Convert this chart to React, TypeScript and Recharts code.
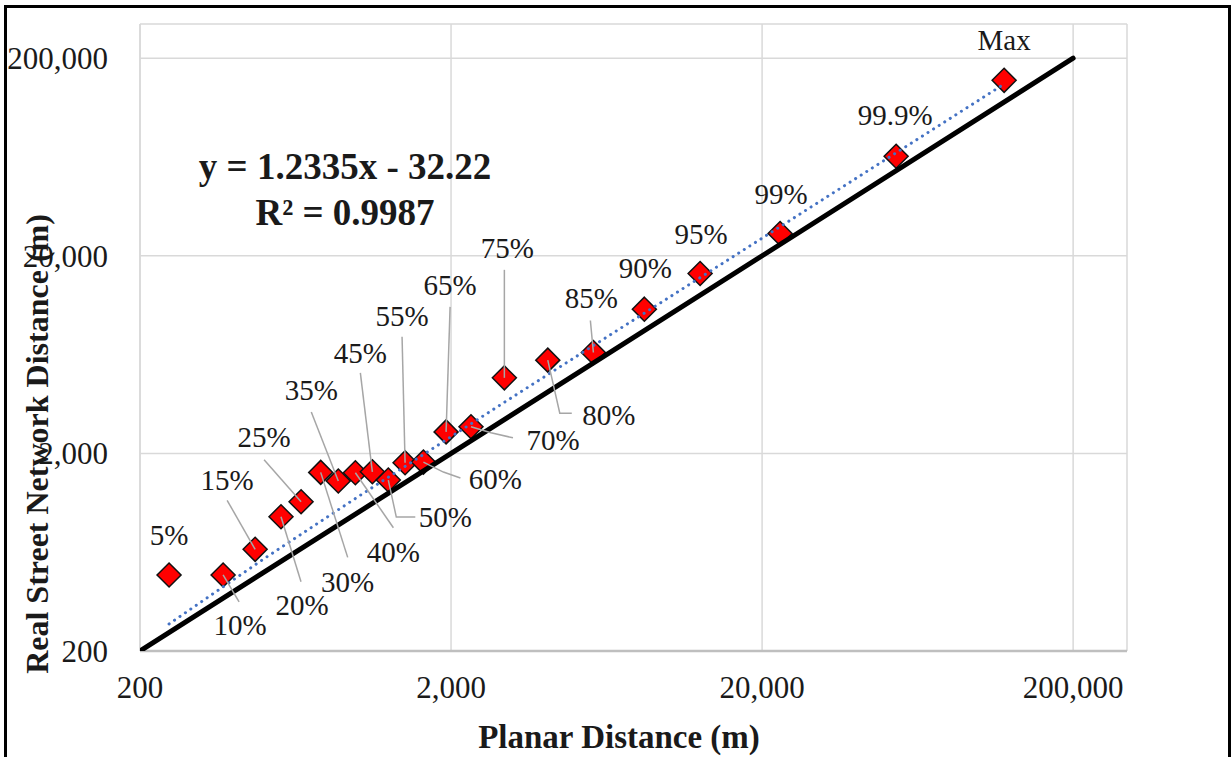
import React from "react";
import { ScatterChart, Scatter, XAxis, YAxis, CartesianGrid } from "recharts";

const pointLabels = [
  "5%", "10%", "15%", "20%", "25%", "30%", "35%", "40%", "45%", "50%", "55%",
  "60%", "65%", "70%", "75%", "80%", "85%", "90%", "95%", "99%", "99.9%", "Max",
];
const planarDistance = [
  248, 370, 469, 568, 659, 762, 868, 985, 1117, 1257, 1423,
  1630, 1928, 2318, 2968, 4093, 5736, 8366, 12640, 22850, 53950, 120000,
];
const networkDistance = [
  485, 485, 654, 956, 1138, 1603, 1449, 1597, 1614, 1466, 1793,
  1808, 2570, 2727, 4825, 5929, 6486, 10740, 16270, 25930, 63800, 154600,
];
const trendPlanar = [248, 500, 1000, 3000, 120000];
const trendNetwork = [274, 585, 1201, 3668, 148000];
const identityValues = [200, 200000];
const axisTicks = [200, 2000, 20000, 200000];

// where each percentile label sits relative to its marker, plus the leader line
const labelLayout: { dx: number; dy: number; leader?: number[][] }[] = [
  { dx: 0, dy: -40 },
  { dx: 17, dy: 50, leader: [[0, 0], [16, 27]] },
  { dx: -28, dy: -69, leader: [[0, 0], [-28, -49]] },
  { dx: 21, dy: 88, leader: [[0, 0], [20, 65]] },
  { dx: -37, dy: -65, leader: [[0, 0], [-37, -42]] },
  { dx: 27, dy: 110, leader: [[0, 0], [27, 85]] },
  { dx: -27, dy: -91, leader: [[0, 0], [-27, -69]] },
  { dx: 38, dy: 79, leader: [[0, 0], [38, 55]] },
  { dx: -12, dy: -119, leader: [[0, 0], [-12, -99]] },
  { dx: 57, dy: 37, leader: [[0, 0], [8, 37], [27, 37]] },
  { dx: -3, dy: -147, leader: [[0, 0], [-3, -126]] },
  { dx: 72, dy: 17, leader: [[0, 0], [20, 10], [37, 16]] },
  { dx: 4, dy: -147, leader: [[0, 0], [4, -125]] },
  { dx: 82, dy: 13, leader: [[0, 0], [20, 6], [42, 11]] },
  { dx: 3, dy: -130, leader: [[0, 0], [0, -108]] },
  { dx: 61, dy: 55, leader: [[0, 0], [12, 53], [24, 53]] },
  { dx: -2, dy: -54, leader: [[0, 0], [-3, -32]] },
  { dx: 1, dy: -41 },
  { dx: 1, dy: -40 },
  { dx: 1, dy: -40 },
  { dx: -1, dy: -41 },
  { dx: 0, dy: -40 },
];

const points = planarDistance.map((x, i) => ({ x, y: networkDistance[i], label: pointLabels[i], i }));
const trend = trendPlanar.map((x, i) => ({ x, y: trendNetwork[i] }));
const identity = identityValues.map((v) => ({ x: v, y: v }));

const SERIF = "'Liberation Serif', 'Times New Roman', serif";

const Diamond = (props: any) => {
  const { cx, cy } = props;
  const r = 12;
  return (
    <polygon
      points={`${cx},${cy - r} ${cx + r},${cy} ${cx},${cy + r} ${cx - r},${cy}`}
      fill="#ff0000"
      stroke="#111"
      strokeWidth={1.5}
    />
  );
};

const PointLabel = (props: any) => {
  const { cx, cy, payload } = props;
  const lay = labelLayout[payload.i];
  return (
    <g>
      {lay.leader && (
        <polyline
          points={lay.leader.map(([a, b]) => `${cx + a},${cy + b}`).join(" ")}
          fill="none"
          stroke="#a6a6a6"
          strokeWidth={1.5}
        />
      )}
      <text
        x={cx + lay.dx}
        y={cy + lay.dy}
        textAnchor="middle"
        dominantBaseline="central"
        fontSize={29}
        fontFamily={SERIF}
        fill="#1a1a1a"
      >
        {payload.label}
      </text>
    </g>
  );
};

const fmt = (v: number) => v.toLocaleString("en-US");

export default function App() {
  return (
    <div style={{ position: "fixed", left: 0, top: 0, width: 1231, height: 757, overflow: "hidden", background: "#fff" }}>
      <div
        style={{
          position: "absolute",
          left: 4,
          top: 5,
          width: 1227,
          height: 800,
          border: "3px solid #000",
          boxSizing: "border-box",
        }}
      />
      <ScatterChart width={1231} height={757} margin={{ top: 24, right: 104, left: 0, bottom: 0 }}>
        <CartesianGrid stroke="#d9d9d9" strokeWidth={1.5} />
        <XAxis
          type="number"
          dataKey="x"
          scale="log"
          domain={[200, 298000]}
          allowDataOverflow
          ticks={axisTicks}
          tickFormatter={fmt}
          height={106}
          tickLine={false}
          tickSize={0}
          tickMargin={25}
          axisLine={{ stroke: "#bfbfbf", strokeWidth: 2.5 }}
          tick={{ fontSize: 31, fontFamily: SERIF, fill: "#1a1a1a" }}
          label={{
            content: () => (
              <text x={619} y={737} textAnchor="middle" dominantBaseline="central" fontSize={33} fontWeight="bold" fontFamily={SERIF} fill="#1a1a1a">
                Planar Distance (m)
              </text>
            ),
          }}
        />
        <YAxis
          type="number"
          dataKey="y"
          scale="log"
          domain={[200, 298000]}
          allowDataOverflow
          ticks={axisTicks}
          tickFormatter={fmt}
          width={140}
          tickLine={false}
          tickSize={0}
          tickMargin={32}
          axisLine={{ stroke: "#d9d9d9", strokeWidth: 1.5 }}
          tick={{ fontSize: 31, fontFamily: SERIF, fill: "#1a1a1a" }}
          label={{
            content: () => (
              <text
                x={37}
                y={444}
                transform="rotate(-90 37 444)"
                textAnchor="middle"
                dominantBaseline="central"
                fontSize={32}
                fontWeight="bold"
                fontFamily={SERIF}
                fill="#1a1a1a"
              >
                Real Street Network Distance (m)
              </text>
            ),
          }}
        />
        <Scatter data={points} shape={Diamond} isAnimationActive={false} />
        <Scatter
          data={trend}
          shape={() => <g />}
          line={{ stroke: "#4472c4", strokeWidth: 3, strokeDasharray: "0.1 6.5", strokeLinecap: "round" }}
          isAnimationActive={false}
        />
        <Scatter
          data={identity}
          shape={() => <g />}
          line={{ stroke: "#000", strokeWidth: 5, strokeLinecap: "round" }}
          isAnimationActive={false}
        />
        <Scatter data={points} shape={PointLabel} isAnimationActive={false} />
      </ScatterChart>
      <div
        style={{
          position: "absolute",
          left: 145,
          top: 144,
          width: 400,
          textAlign: "center",
          fontFamily: SERIF,
          fontWeight: "bold",
          fontSize: 37,
          lineHeight: "46px",
          color: "#1a1a1a",
        }}
      >
        <div>y = 1.2335x - 32.22</div>
        <div>R² = 0.9987</div>
      </div>
    </div>
  );
}
